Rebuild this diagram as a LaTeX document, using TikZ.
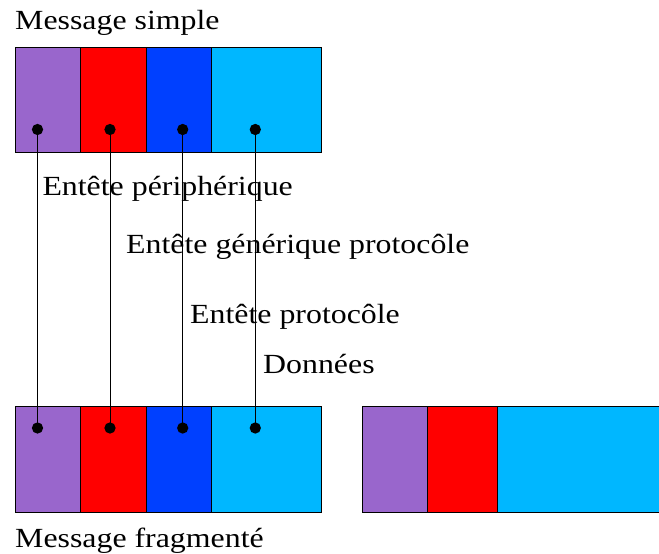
\documentclass[tikz,border=0pt]{standalone}
\usepackage{fontspec}
\setmainfont{Liberation Serif}[FakeStretch=1.15]
\definecolor{cpurple}{RGB}{153,102,204}
\definecolor{cred}{RGB}{255,0,0}
\definecolor{cblue}{RGB}{0,64,255}
\definecolor{ccyan}{RGB}{0,183,255}
\tikzset{
  seg/.style={draw=black, line width=0.9pt, minimum height=105.6pt, inner sep=0pt, outer sep=0pt, anchor=north west},
  dot/.style={circle, fill=black, minimum size=11.3pt, inner sep=0pt},
  lbl/.style={anchor=base west, inner sep=0pt, font=\fontsize{27.7}{30}\selectfont},
  link/.style={draw=black, line width=0.8pt}
}
\begin{document}
\begin{tikzpicture}[x=1pt,y=-1pt]
\useasboundingbox (0,0) rectangle (659,554);
% top message
\node[seg, fill=cpurple, minimum width=65pt] (t1) at (15,47.3) {};
\node[seg, fill=cred, minimum width=66.7pt] (t2) at (80,47.3) {};
\node[seg, fill=cblue, minimum width=64.3pt] (t3) at (146.7,47.3) {};
\node[seg, fill=ccyan, minimum width=110pt] (t4) at (211,47.3) {};
% bottom message
\node[seg, fill=cpurple, minimum width=65pt] (b1) at (15,406.7) {};
\node[seg, fill=cred, minimum width=66.7pt] (b2) at (80,406.7) {};
\node[seg, fill=cblue, minimum width=64.3pt] (b3) at (146.7,406.7) {};
\node[seg, fill=ccyan, minimum width=110pt] (b4) at (211,406.7) {};
% fragment
\node[seg, fill=cpurple, minimum width=64.6pt] (f1) at (362.7,406.7) {};
\node[seg, fill=cred, minimum width=69.7pt] (f2) at (427.3,406.7) {};
\node[seg, fill=ccyan, minimum width=170pt] (f3) at (497,406.7) {};
% dots
\node[dot] (dt1) at (37.5,129.5) {};
\node[dot] (dt2) at (110,129.5) {};
\node[dot] (dt3) at (182.7,129.5) {};
\node[dot] (dt4) at (255.3,129.5) {};
\node[dot] (db1) at (37.5,428) {};
\node[dot] (db2) at (110,428) {};
\node[dot] (db3) at (182.7,428) {};
\node[dot] (db4) at (255.3,428) {};
% connectors
\draw[link] (dt1.center) -- (db1.center);
\draw[link] (dt2.center) -- (db2.center);
\draw[link] (dt3.center) -- (db3.center);
\draw[link] (dt4.center) -- (db4.center);
% labels
\node[lbl] (ms) at (15,30) {Message simple};
\node[lbl] (mf) at (15,547) {Message fragmenté};
\node[lbl] (l1) at (42.3,195) {Entête périphérique};
\node[lbl] (l2) at (126,253.5) {Entête générique protocôle};
\node[lbl] (l3) at (190,323) {Entête protocôle};
\node[lbl] (l4) at (263,373) {Données};
\end{tikzpicture}
\end{document}
